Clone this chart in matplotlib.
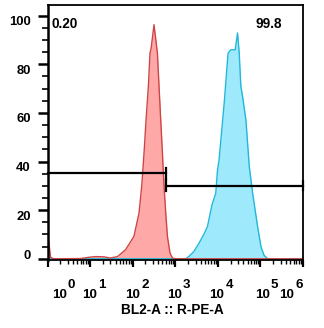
import numpy as np
import matplotlib
matplotlib.use('Agg')
import matplotlib.pyplot as plt
import matplotlib.transforms as mtransforms
from matplotlib.ticker import LogLocator, NullFormatter, MultipleLocator

# histogram outlines (x = BL2-A intensity, y = count)
red_x = [1.0, 1.07, 1.18, 1.4, 6, 9.2, 13.5, 21, 30, 44, 68, 107, 141, 163, 185,
         206, 234, 255, 272, 317, 381, 416, 456, 500, 545, 598, 655, 755, 859,
         1020, 1e6]
red_y = [8, 7, 0.6, 0, 0.1, 0.6, 0.9, 0.8, 0.3, 0.9, 3.7, 9.2, 18.8, 29.8, 43.5,
         57, 71, 84.6, 86.7, 96.3, 84.6, 71, 57, 43.5, 29.8, 18.8, 9.2, 2.3, 0.3,
         0, 0]

blue_x = [1.0, 1770, 2100, 2740, 3640, 4680, 5720, 7240, 8950, 9830, 10700,
          14100, 17400, 20300, 23900, 25600, 29000, 31800, 34700, 38100, 45700,
          54700, 65600, 85800, 103000, 121000, 148000, 1e6]
blue_y = [0, 0, 1, 3, 6.5, 10, 13.3, 22, 27, 36.6, 40.7,
          64, 84.6, 86, 86, 86, 92.9, 84.6, 71, 66.8, 57,
          38, 27, 13.3, 5, 1.5, 0, 0]

gate_cut = 600
left_gate_y = 35.4
right_gate_y = 30.0
left_pct = '0.20'
right_pct = '99.8'

yticks = [0, 20, 40, 60, 80, 100]
xlabel_exps = ['0', '1', '2', '3', '4', '5', '6']
xlabel_pos = [10**0.28, 10**0.99, 10**2.0, 10**2.98, 10**3.98, 10**5.04, 10**5.62]

plt.rcParams['font.family'] = ['Liberation Sans', 'DejaVu Sans']
plt.rcParams['font.weight'] = 'bold'

fig = plt.figure(figsize=(3.24, 3.28), dpi=100)
W, H = 324, 328
ax = fig.add_axes([47.5 / W, 1 - 259.5 / H, (303 - 47.5) / W, (259.5 - 4.5) / H])

ax.fill_between(blue_x, blue_y, 0, color='#9fe9fc', lw=0)
ax.plot(blue_x, blue_y, color='#1fb8da', lw=1.0)
ax.fill_between(red_x, red_y, 0, color='#ffa3a3', lw=0, alpha=0.95)
ax.plot(red_x, red_y, color='#cf4545', lw=1.0)

ax.set_xscale('log')
ax.set_xlim(1, 1e6)
ax.set_ylim(-0.3, 104.6)

# gates
ax.plot([1, gate_cut], [left_gate_y, left_gate_y], color='black', lw=1.6, clip_on=False)
ax.plot([gate_cut, gate_cut], [left_gate_y + 2.1, left_gate_y - 2.6], color='black', lw=1.6)
ax.plot([gate_cut, 1e6], [right_gate_y, right_gate_y], color='black', lw=1.6, clip_on=False)
ax.plot([gate_cut, gate_cut], [right_gate_y + 2.4, right_gate_y - 2.2], color='black', lw=1.6)
ax.plot([1e6, 1e6], [right_gate_y + 1.8, right_gate_y - 1.6], color='black', lw=1.6, clip_on=False)

ax.text(52 / W, 1 - 24.5 / H, left_pct, transform=fig.transFigure, fontsize=9.8,
        fontweight='bold', va='center', ha='left')
ax.text(255 / W, 1 - 24.5 / H, right_pct, transform=fig.transFigure, fontsize=9.8,
        fontweight='bold', va='center', ha='left')

# axes styling
for s in ax.spines.values():
    s.set_linewidth(1.3)
ax.spines['left'].set_linewidth(1.8)

ax.set_yticks(yticks)
ax.set_yticklabels([str(t) for t in yticks], fontsize=9.4, fontweight='bold')
ax.yaxis.set_minor_locator(MultipleLocator(5))
ax.tick_params(axis='y', which='major', length=7, width=1.8, pad=5)
ax.tick_params(axis='y', which='minor', length=4, width=1.2)
for lab, t in zip(ax.get_yticklabels(), yticks):
    dy = 4.5 if t == 0 else -5
    lab.set_transform(lab.get_transform() + mtransforms.ScaledTranslation(0, dy / 100, fig.dpi_scale_trans))

ax.xaxis.set_major_locator(LogLocator(base=10, numticks=10))
ax.xaxis.set_minor_locator(LogLocator(base=10, subs=np.arange(2, 10), numticks=20))
ax.xaxis.set_major_formatter(NullFormatter())
ax.xaxis.set_minor_formatter(NullFormatter())
ax.tick_params(axis='x', which='major', length=5, width=1.6)
ax.tick_params(axis='x', which='minor', length=3, width=1.0)

trans = mtransforms.blended_transform_factory(ax.transData, fig.transFigure)
sup_shift = mtransforms.ScaledTranslation(8.5 / 100, 0, fig.dpi_scale_trans)
for e, xp in zip(xlabel_exps, xlabel_pos):
    ax.text(xp, 1 - 298 / H, '10', transform=trans, fontsize=9.6, fontweight='bold',
            ha='center', va='baseline')
    ax.text(xp, 1 - 287.5 / H, e, transform=trans + sup_shift, fontsize=9.6,
            fontweight='bold', ha='left', va='baseline')

fig.text(172 / W, 1 - 310 / H, 'BL2-A :: R-PE-A', fontsize=9.8, fontweight='bold',
         ha='center', va='center')

fig.savefig('out.png', dpi=100)
